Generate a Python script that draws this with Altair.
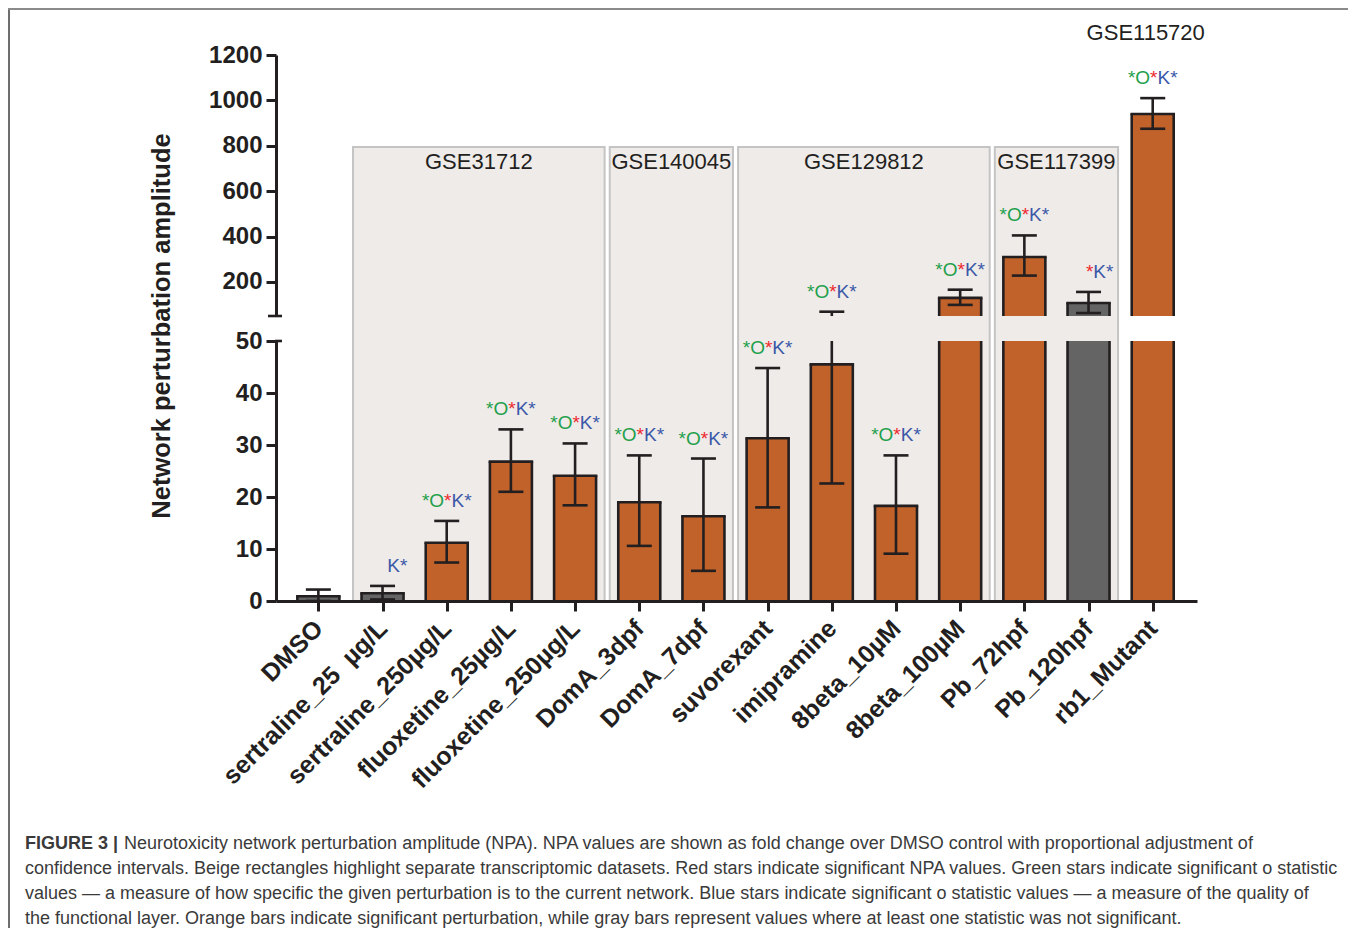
import json
import altair as alt
import pandas as pd

# ---------------- data ----------------
names = ["DMSO", "sertraline_25\u00a0 µg/L", "sertraline_250µg/L", "fluoxetine_25µg/L",
         "fluoxetine_250µg/L", "DomA_3dpf", "DomA_7dpf", "suvorexant", "imipramine",
         "8beta_10µM", "8beta_100µM", "Pb_72hpf", "Pb_120hpf", "rb1_Mutant"]
npa = [0.9, 1.5, 11.2, 26.8, 24.1, 19.0, 16.3, 31.3, 45.5, 18.3, 130, 310, 107, 940]
ci_low = [0.0, 0.3, 7.4, 21.0, 18.4, 10.6, 5.8, 18.0, 22.6, 9.1, 99, 228, 63, 875]
ci_high = [2.2, 2.9, 15.4, 33.0, 30.3, 28.0, 27.4, 44.8, 69, 28.0, 166, 405, 156, 1010]
o_sig = [0, 0, 1, 1, 1, 1, 1, 1, 1, 1, 1, 1, 0, 1]
npa_sig = [0, 0, 1, 1, 1, 1, 1, 1, 1, 1, 1, 1, 1, 1]
k_sig = [0, 1, 1, 1, 1, 1, 1, 1, 1, 1, 1, 1, 1, 1]

datasets = ["GSE31712", "GSE140045", "GSE129812", "GSE117399"]
ds_first = [1, 5, 7, 11]
ds_last = [4, 6, 10, 12]
ds_top = [795, 795, 795, 795]
extra_dataset = ["GSE115720"]
extra_idx = [13]

caption_bold = "FIGURE 3 |"
caption_first = ("Neurotoxicity network perturbation amplitude (NPA). NPA values are shown as fold "
                 "change over DMSO control with proportional adjustment of")
caption_rest = [
    "confidence intervals. Beige rectangles highlight separate transcriptomic datasets. Red stars "
    "indicate significant NPA values. Green stars indicate significant o statistic",
    "values \u2014 a measure of how specific the given perturbation is to the current network. Blue "
    "stars indicate significant o statistic values \u2014 a measure of the quality of",
    "the functional layer. Orange bars indicate significant perturbation, while gray bars represent "
    "values where at least one statistic was not significant.",
]

# ---------------- style ----------------
FONT = "Liberation Sans"
INK = "#231f20"
ORANGE = "#c0622a"
GRAY = "#646464"
GREEN = "#1fa04c"
RED = "#ec2a2e"
BLUE = "#3b58a8"
W, H = 921, 546
X_DOMAIN = [-0.66, 13.69]
PXU = W / (X_DOMAIN[1] - X_DOMAIN[0])
BAR_HALF = 21 / PXU
CAP_HALF = 12.5 / PXU
TOP_END = 261      # pixel where upper segment ends
BOT_START = 286    # pixel where lower segment starts
ANN_SIZE = 19
widths = {"*": 0.389, "O": 0.778, "K": 0.667}
slots = [("*", GREEN, "o"), ("O", GREEN, "o"), ("*", RED, "n"), ("K", BLUE, "k"), ("*", BLUE, "k")]
total = sum(widths[c] for c, _, _ in slots)
offs, acc = [], 0.0
for c, _, _ in slots:
    offs.append((acc + widths[c] / 2 - total / 2) * ANN_SIZE)
    acc += widths[c]

df = pd.DataFrame({"idx": list(range(len(names))), "name": names, "npa": npa,
                   "lo": ci_low, "hi": ci_high})
df["fill"] = [ORANGE if (a and b and c) else GRAY for a, b, c in zip(o_sig, npa_sig, k_sig)]

flags = {"o": o_sig, "n": npa_sig, "k": k_sig}
rows = []
for i in range(len(names)):
    for j, (ch, col, f) in enumerate(slots):
        if flags[f][i]:
            rows.append({"idx": i, "hi": ci_high[i], "ch": ch, "col": col, "slot": j})
chars = pd.DataFrame(rows)

gdf = pd.DataFrame({"name": datasets, "first": ds_first, "last": ds_last, "top": ds_top})
edf = pd.DataFrame({"name": extra_dataset, "idx": extra_idx})

# ---------------- scales & axes ----------------
XS = alt.Scale(domain=X_DOMAIN, nice=False, zero=False)
XAX = alt.Axis(values=list(range(len(names))),
               labelExpr=json.dumps(names, ensure_ascii=False) + "[datum.value]",
               title=None, labelAngle=-45, labelAlign="right", labelBaseline="middle",
               labelFont=FONT, labelFontSize=25, labelFontWeight="bold", labelColor=INK,
               labelPadding=13, labelFlush=False, labelOverlap=False, labelLimit=0,
               tickSize=10, tickWidth=3,
               tickColor=INK, domainColor=INK, domainWidth=3, grid=False, zindex=1)


def X(f):
    return alt.X(f"{f}:Q", scale=XS, axis=XAX)


def yaxis(vals):
    return alt.Axis(values=vals, title=None, orient="left", format="d", labelFont=FONT,
                    labelFontSize=24, labelFontWeight="bold", labelColor=INK, labelPadding=4,
                    labelFlush=False, labelOverlap=False, labelLimit=0, tickSize=10, tickWidth=3,
                    tickColor=INK, domainColor=INK, domainWidth=3, grid=False, zindex=1)


YB = alt.Scale(domain=[0, 50], range=[H, BOT_START], nice=False, zero=False)
YT = alt.Scale(domain=[50, 1200], range=[TOP_END, 0], nice=False, zero=False)
YB_AX = yaxis([0, 10, 20, 30, 40, 50])
YT_AX = yaxis([200, 400, 600, 800, 1000, 1200])


def YBf(f):
    return alt.Y(f"{f}:Q", scale=YB, axis=YB_AX)


def YTf(f):
    return alt.Y(f"{f}:Q", scale=YT, axis=YT_AX)


base = alt.Chart(df).transform_calculate(
    xl=f"datum.idx - {BAR_HALF}", xr=f"datum.idx + {BAR_HALF}",
    cl=f"datum.idx - {CAP_HALF}", cr=f"datum.idx + {CAP_HALF}",
    vb="min(datum.npa, 50)", hib="min(datum.hi, 50)", lot="max(datum.lo, 50)")

ann = alt.Chart(chars).transform_calculate(
    xt="datum.idx + [" + ",".join(f"{o:.2f}" for o in offs) + f"][datum.slot] / {PXU}")

ann_mark = dict(font=FONT, fontSize=ANN_SIZE, baseline="alphabetic", align="center", dy=-14)
line = dict(color=INK, strokeWidth=2.6)

# ---------------- upper segment ----------------
rects = alt.Chart(gdf).transform_calculate(gs="datum.first - 0.46", ge="datum.last + 0.46").mark_rect(
    fill="#efebe9", stroke="#c4c4c4", strokeWidth=2).encode(
    x=X("gs"), x2="ge:Q", y=YTf("top"), y2=alt.value("height"))
glabels = alt.Chart(gdf).transform_calculate(gm="(datum.first + datum.last) / 2").mark_text(
    font=FONT, fontSize=22, color=INK, baseline="middle", dy=15).encode(
    x=X("gm"), y=YTf("top"), text="name:N")
elabel = alt.Chart(edf).mark_text(font=FONT, fontSize=22, color=INK, baseline="middle", dx=-7).encode(
    x=X("idx"), y=alt.value(-22), text="name:N")
bars_t = base.transform_filter("datum.npa > 50").mark_rect().encode(
    x=X("xl"), x2="xr:Q", y=YTf("npa"), y2=alt.datum(50), fill=alt.Fill("fill:N", scale=None))
edges_t = base.transform_filter("datum.npa > 50").transform_fold(["xl", "xr"], as_=["side", "xe"]).mark_rule(
    **line).encode(x=X("xe"), y=YTf("npa"), y2=alt.datum(50))
topedge_t = base.transform_filter("datum.npa > 50").mark_rule(strokeCap="square", **line).encode(
    x=X("xl"), x2="xr:Q", y=YTf("npa"))
err_t = base.transform_filter("datum.hi > 50").mark_rule(**line).encode(
    x=X("idx"), y=YTf("lot"), y2="hi:Q")
caps_t = base.transform_fold(["lo", "hi"], as_=["end", "yv"]).transform_filter("datum.yv > 50").mark_rule(
    **line).encode(x=X("cl"), x2="cr:Q", y=YTf("yv"))
ann_t = ann.transform_filter("datum.hi > 50").mark_text(**ann_mark).encode(
    x=X("xt"), y=YTf("hi"), text="ch:N", color=alt.Color("col:N", scale=None))

top_group = alt.layer(rects, glabels, elabel, bars_t, edges_t, topedge_t, err_t, caps_t, ann_t)

# ---------------- lower segment ----------------
bars_b = base.mark_rect().encode(
    x=X("xl"), x2="xr:Q", y=YBf("vb"), y2=alt.datum(0), fill=alt.Fill("fill:N", scale=None))
edges_b = base.transform_fold(["xl", "xr"], as_=["side", "xe"]).mark_rule(**line).encode(
    x=X("xe"), y=YBf("vb"), y2=alt.datum(0))
topedge_b = base.transform_filter("datum.npa <= 50").mark_rule(strokeCap="square", **line).encode(
    x=X("xl"), x2="xr:Q", y=YBf("npa"))
err_b = base.transform_filter("datum.lo < 50").mark_rule(**line).encode(
    x=X("idx"), y=YBf("lo"), y2="hib:Q")
caps_b = base.transform_fold(["lo", "hi"], as_=["end", "yv"]).transform_filter("datum.yv <= 50").mark_rule(
    **line).encode(x=X("cl"), x2="cr:Q", y=YBf("yv"))
ann_b = ann.transform_filter("datum.hi <= 50").mark_text(**ann_mark).encode(
    x=X("xt"), y=YBf("hi"), text="ch:N", color=alt.Color("col:N", scale=None))

bottom_group = alt.layer(bars_b, edges_b, topedge_b, err_b, caps_b, ann_b)

# ---------------- decorations ----------------
one = pd.DataFrame({"t": ["Network perturbation amplitude"]})
ytitle = alt.Chart(one).mark_text(font=FONT, fontSize=25.5, fontWeight="bold", color=INK, angle=270,
                                  align="center", baseline="middle").encode(
    x=alt.value(-114), y=alt.value(271), text="t:N")
brk1 = alt.Chart(one).mark_rule(**line).encode(x=alt.value(-8), x2=alt.value(6), y=alt.value(TOP_END))
brk2 = alt.Chart(one).mark_rule(**line).encode(x=alt.value(-1), x2=alt.value(6), y=alt.value(BOT_START))
frame_l = alt.Chart(one).mark_rule(color="#6e6e6e", strokeWidth=2).encode(
    x=alt.value(-267), y=alt.value(-46), y2=alt.value(880))
frame_t = alt.Chart(one).mark_rule(color="#8a8a8a", strokeWidth=2).encode(
    x=alt.value(-268), x2=alt.value(1074), y=alt.value(-46))
frame_r = alt.Chart(one).mark_rule(color="#6e6e6e", strokeWidth=2).encode(
    x=alt.value(1074), y=alt.value(-46), y2=alt.value(880))

cap_font = dict(font=FONT, fontSize=18, color="#3a3a3a", align="left", baseline="alphabetic")
cap_b = alt.Chart(pd.DataFrame({"t": [caption_bold]})).mark_text(fontWeight="bold", **cap_font).encode(
    x=alt.value(-251), y=alt.value(794), text="t:N")
cap_1 = alt.Chart(pd.DataFrame({"t": [caption_first]})).mark_text(**cap_font).encode(
    x=alt.value(-152), y=alt.value(794), text="t:N")
cap_r = alt.Chart(pd.DataFrame({"t": ["\n".join(caption_rest)]})).mark_text(
    lineBreak="\n", lineHeight=25, **cap_font).encode(
    x=alt.value(-251), y=alt.value(819), text="t:N")

chart = alt.layer(top_group, bottom_group, ytitle, brk1, brk2, frame_l, frame_t, frame_r,
                  cap_b, cap_1, cap_r).resolve_scale(y="independent").properties(
    width=W, height=H, autosize=alt.AutoSizeParams(type="none"),
    padding={"left": 268, "top": 47, "right": 151, "bottom": 327},
    background="white").configure_view(strokeWidth=0)

chart.save("out.html", embed_options={"renderer": "svg", "actions": False})
